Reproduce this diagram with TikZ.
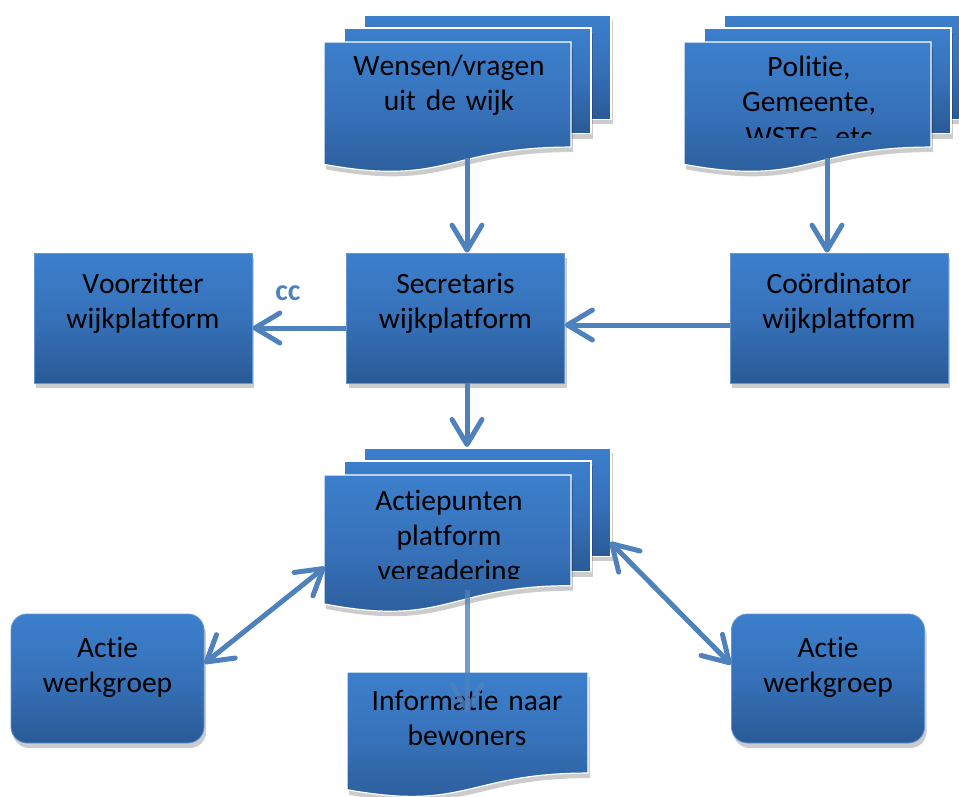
\documentclass[tikz,border=0pt]{standalone}
\usepackage{fontspec}
\setmainfont{Carlito}[Ligatures=NoCommon,Kerning=Off]
\usetikzlibrary{arrows.meta,shadows}
\definecolor{topblue}{RGB}{60,127,204}
\definecolor{midblue}{RGB}{54,113,185}
\definecolor{botblue}{RGB}{42,90,150}
\definecolor{arrowblue}{RGB}{79,129,189}
\definecolor{edgeblue}{RGB}{100,150,210}
\newcommand\mydoc[4]{%
  \pgfmathsetmacro\dxa{#1+#3}\pgfmathsetmacro\dxm{#1+#3/2}%
  \pgfmathsetmacro\dyr{#2+0.802*#4}\pgfmathsetmacro\dyc{#2+1.107*#4}\pgfmathsetmacro\dyl{#2+0.934*#4}%
  \path[docfill] (#1,#2) -- (\dxa,#2) -- (\dxa,\dyr) .. controls (\dxm,\dyr) and (\dxm,\dyc) .. (#1,\dyl) -- cycle;}
\newcommand\mystack[4]{%
  \pgfmathsetmacro\sxa{#1+40}\pgfmathsetmacro\sya{#2-27}\pgfmathsetmacro\sxb{#1+40+#3}\pgfmathsetmacro\syb{#2+0.59*#4}%
  \path[docfill] (\sxa,\sya) rectangle (\sxb,\syb);
  \pgfmathsetmacro\sxa{#1+20}\pgfmathsetmacro\sya{#2-14}\pgfmathsetmacro\sxb{#1+20+#3}\pgfmathsetmacro\syb{#2+0.70*#4}%
  \path[docfill] (\sxa,\sya) rectangle (\sxb,\syb);
  \mydoc{#1}{#2}{#3}{#4}}
\begin{document}
\begin{tikzpicture}[x=1pt,y=-1pt,
  shad/.style={drop shadow={shadow xshift=2pt,shadow yshift=-5pt,fill=black,opacity=0.2}},
  fillblue/.style={top color=topblue,bottom color=botblue,middle color=midblue},
  docfill/.style={fillblue,draw=white,line width=1.2pt,shad},
  box/.style={rectangle,fillblue,draw=edgeblue,line width=0.8pt,shad,minimum width=218pt,minimum height=130pt,inner sep=0pt},
  rbox/.style={box,rounded corners=16pt,minimum width=193pt,minimum height=129pt},
  txt/.style={font=\fontsize{29.5}{35}\selectfont,text width=250pt,align=center,inner sep=0pt,anchor=base},
  cclabel/.style={font=\fontsize{30}{32}\selectfont\bfseries,text=arrowblue,inner sep=0pt,anchor=base},
  conn/.style={draw=arrowblue,line width=5pt,-{Straight Barb[length=25pt,width=30pt,round]}},
  dconn/.style={draw=arrowblue,line width=5pt,{Straight Barb[length=25pt,width=30pt,round]}-{Straight Barb[length=25pt,width=30pt,round]}}]
\useasboundingbox (0,0) rectangle (959,796);
% document stacks
\mystack{324}{42}{247}{131}
\mystack{684}{42}{247}{131}
% boxes
\node[box] (voor) at (143,318) {};
\node[box] (sec) at (455.5,318) {};
\node[box] (coo) at (839,318) {};
\mystack{324}{475}{247}{138}
\mydoc{347}{672}{241}{126}
\node[rbox] (wgl) at (107.5,678.5) {};
\node[rbox] (wgr) at (828,678.5) {};
% texts
\node[txt] (wensen) at (449,75) {Wensen/vragen\\uit de wijk};
\begin{scope}
\clip (684,0) rectangle (931,137);
\node[txt] (politie) at (809,76) {Politie,\\Gemeente,\\WSTG, etc};
\end{scope}
\node[txt] (voortxt) at (143,293) {Voorzitter\\wijkplatform};
\node[txt] (sectxt) at (455.5,293) {Secretaris\\wijkplatform};
\node[txt] (cootxt) at (839,293) {Coördinator\\wijkplatform};
\begin{scope}
\clip (324,460) rectangle (571,578);
\node[txt] (actie) at (449,510) {Actiepunten\\platform\\vergadering};
\end{scope}
\node[txt] (info) at (467,710) {Informatie naar\\bewoners};
\node[txt] (wgltxt) at (107.5,657) {Actie\\werkgroep};
\node[txt] (wgrtxt) at (828,657) {Actie\\werkgroep};
\node[cclabel] (cc) at (288,300) {cc};
% connector end points
\coordinate (wB) at (467,158);
\coordinate (pB) at (827,158);
\coordinate (aT) at (467,447);
\coordinate (aB) at (467,590);
\coordinate (iT) at (467,712);
\coordinate (aL) at (325,567);
\coordinate (aR) at (610,542);
% connectors
\draw[conn] (wB) -- (wB |- sec.north);
\draw[conn] (pB) -- (pB |- coo.north);
\draw[conn] ([yshift=-10pt]sec.west) -- ([yshift=-10pt]voor.east);
\draw[conn] ([yshift=-7pt]coo.west) -- ([yshift=-7pt]sec.east);
\draw[conn] (aT |- sec.south) -- (aT);
\draw[dconn] ([yshift=15pt]wgl.east) -- (aL);
\draw[dconn] (aR) -- ([yshift=14pt]wgr.west);
\draw[conn,opacity=0.8] (aB) -- (iT);
\end{tikzpicture}
\end{document}
